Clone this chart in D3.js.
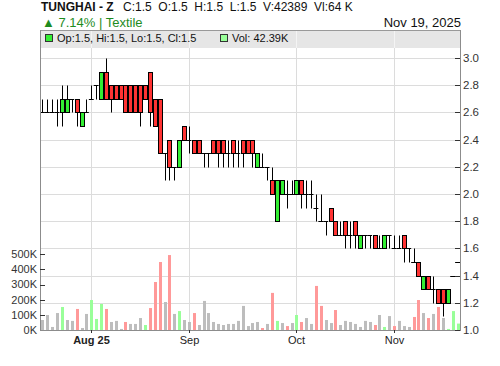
<!DOCTYPE html>
<html><head><meta charset="utf-8">
<script src="https://cdn.jsdelivr.net/npm/d3@7/dist/d3.min.js"></script>
<style>
html,body{margin:0;padding:0;background:#fff;}
svg{display:block;font-family:"Liberation Sans",Arial,sans-serif;}
text{white-space:pre;}
</style></head>
<body><svg id="c" width="500" height="366"></svg>
<script>
const dates = [
"2025-07-20","2025-07-21","2025-07-22","2025-07-23","2025-07-24","2025-07-27","2025-07-28","2025-07-29","2025-07-30","2025-07-31",
"2025-08-03","2025-08-04","2025-08-06","2025-08-07","2025-08-10","2025-08-11","2025-08-12","2025-08-13","2025-08-14","2025-08-17",
"2025-08-18","2025-08-19","2025-08-20","2025-08-21","2025-08-24","2025-08-25","2025-08-26","2025-08-27","2025-08-28","2025-08-31",
"2025-09-01","2025-09-02","2025-09-03","2025-09-04","2025-09-07","2025-09-08","2025-09-09","2025-09-10","2025-09-11","2025-09-14",
"2025-09-15","2025-09-16","2025-09-17","2025-09-18","2025-09-21","2025-09-22","2025-09-23","2025-09-24","2025-09-25","2025-09-28",
"2025-09-29","2025-09-30","2025-10-05","2025-10-06","2025-10-07","2025-10-08","2025-10-09","2025-10-12","2025-10-13","2025-10-14",
"2025-10-15","2025-10-16","2025-10-19","2025-10-20","2025-10-21","2025-10-22","2025-10-23","2025-10-26","2025-10-27","2025-10-28",
"2025-10-29","2025-10-30","2025-11-02","2025-11-03","2025-11-04","2025-11-05","2025-11-06","2025-11-09","2025-11-10","2025-11-11",
"2025-11-12","2025-11-13","2025-11-16","2025-11-17","2025-11-18","2025-11-19"];
const open = [2.6,2.6,2.6,2.6,2.6,2.6,2.7,2.7,2.5,2.6, 2.7,2.8,2.7,2.9,2.8,2.8,2.8,2.8,2.8,2.8,
2.8,2.8,2.9,2.7,2.7,2.3,2.4,2.2,2.2,2.5, 2.4,2.4,2.4,2.3,2.3,2.4,2.4,2.4,2.3,2.4,
2.3,2.4,2.4,2.4,2.2,2.2,2.2,2.1,1.8,2.0, 2.0,2.0,2.0,2.1,2.0,2.0,1.9,1.8,1.8,1.9,
1.8,1.7,1.8,1.7,1.8,1.6,1.7,1.7,1.7,1.6, 1.6,1.7,1.6,1.6,1.7,1.6,1.5,1.5,1.3,1.4,
1.3,1.3,1.3,1.2,1.4,1.5];
const high = [2.7,2.7,2.7,2.7,2.8,2.8,2.7,2.7,2.6,2.7, 2.8,2.8,2.9,3.0,2.8,2.8,2.8,2.8,2.8,2.8,
2.8,2.8,2.9,2.7,2.7,2.3,2.4,2.2,2.4,2.5, 2.5,2.4,2.4,2.3,2.3,2.4,2.4,2.4,2.4,2.4,
2.4,2.4,2.4,2.4,2.3,2.3,2.2,2.2,2.1,2.1, 2.1,2.1,2.1,2.1,2.1,2.1,2.0,2.0,1.8,1.9,
1.8,1.8,1.8,1.8,1.8,1.7,1.7,1.7,1.7,1.7, 1.7,1.7,1.7,1.7,1.7,1.6,1.6,1.5,1.4,1.4,
1.4,1.3,1.3,1.3,1.4,1.5];
const low = [2.6,2.6,2.6,2.5,2.5,2.6,2.6,2.5,2.5,2.6, 2.7,2.7,2.7,2.7,2.6,2.7,2.7,2.6,2.6,2.6,
2.5,2.7,2.5,2.5,2.3,2.1,2.1,2.1,2.2,2.4, 2.3,2.3,2.3,2.2,2.2,2.3,2.2,2.2,2.2,2.2,
2.2,2.2,2.3,2.2,2.2,2.2,2.1,2.0,1.8,2.0, 1.9,2.0,2.0,1.9,1.9,1.9,1.8,1.8,1.7,1.8,
1.7,1.7,1.6,1.6,1.6,1.6,1.6,1.6,1.6,1.6, 1.6,1.6,1.6,1.6,1.5,1.5,1.5,1.4,1.3,1.3,
1.2,1.2,1.1,1.2,1.4,1.5];
const close = [2.6,2.6,2.6,2.6,2.7,2.7,2.7,2.6,2.6,2.6, 2.7,2.8,2.9,2.7,2.7,2.7,2.7,2.6,2.6,2.6,
2.6,2.7,2.6,2.5,2.3,2.3,2.2,2.2,2.4,2.4, 2.4,2.3,2.3,2.3,2.3,2.3,2.3,2.3,2.3,2.3,
2.3,2.3,2.3,2.3,2.3,2.2,2.2,2.0,2.1,2.1, 2.0,2.0,2.1,2.0,2.0,2.0,1.9,1.8,1.8,1.8,
1.7,1.7,1.7,1.7,1.7,1.7,1.7,1.7,1.6,1.6, 1.7,1.7,1.6,1.6,1.6,1.6,1.5,1.4,1.4,1.3,
1.3,1.2,1.2,1.3,1.4,1.5];
const volume = [66000,99000,20000,112000,152000,66000,60000,139000,13000,106000,
198000,73000,172000,139000,53000,60000,7000,53000,40000,40000,
79000,33000,145000,317000,449000,185000,495000,106000,125000,66000,
53000,112000,33000,192000,112000,53000,40000,33000,40000,40000,
60000,159000,26000,46000,53000,13000,40000,245000,60000,46000,
26000,46000,99000,53000,79000,40000,291000,159000,66000,46000,
132000,33000,60000,53000,40000,20000,60000,53000,33000,99000,
20000,92000,26000,60000,26000,20000,86000,198000,112000,79000,
106000,152000,79000,7000,125000,42389];
const priceTicks = [1.0,1.2,1.4,1.6,1.8,2.0,2.2,2.4,2.6,2.8,3.0];
const volTicks = [0,100000,200000,300000,400000,500000];
const monthTickDates = ["2025-08-03","2025-09-01","2025-10-05","2025-11-02"];
const monthLabels = ["Aug 25","Sep","Oct","Nov"];
const titleText = "TUNGHAI - Z";
const statsText = "C:1.5  O:1.5  H:1.5  L:1.5  V:42389  Vl:64 K";
const changeText = "\u25B2 7.14% | Textile";
const dateText = "Nov 19, 2025";

const svg = d3.select("#c");
const L = 40, R = 460, T = 30, B = 330;
const x = d3.scaleBand().domain(dates).range([L, R]).padding(0);
const bw = x.bandwidth();
const y = d3.scaleLinear().domain([1.0, 3.0]).range([330, 58]);
const yv = d3.scaleLinear().domain([0, 500000]).range([330, 254.3]);
const cx = d => Math.round(x(d) + bw / 2);
const py = v => Math.round(y(v)) + 0.5;

// legend box background
svg.append("rect").attr("x", L).attr("y", T).attr("width", R - L).attr("height", 18).attr("fill", "#e6e6e6");

// horizontal grid
svg.append("g").selectAll("line").data(priceTicks.filter(t => t > 1.0)).join("line")
  .attr("x1", L).attr("x2", R).attr("y1", d => py(d)).attr("y2", d => py(d))
  .attr("stroke", "#dcdcdc").attr("stroke-width", 1);
// vertical grid
svg.append("g").selectAll("line").data(monthTickDates).join("line")
  .attr("x1", d => cx(d) + 0.5).attr("x2", d => cx(d) + 0.5).attr("y1", T + 18).attr("y2", B)
  .attr("stroke", "#dcdcdc");
svg.append("g").selectAll("line").data(monthTickDates).join("line")
  .attr("x1", d => cx(d) + 0.5).attr("x2", d => cx(d) + 0.5).attr("y1", T + 1).attr("y2", T + 18)
  .attr("stroke", "#f4f4f4");
svg.append("line").attr("x1", L).attr("x2", R).attr("y1", T + 0.5).attr("y2", T + 0.5).attr("stroke", "#999");

// volume bars
const volColor = (i) => i === 0 || close[i] === close[i - 1] ? "#bdbdbd" : (close[i] > close[i - 1] ? "#99ff99" : "#ff9999");
svg.append("g").selectAll("rect").data(dates).join("rect")
  .attr("x", d => cx(d) - 1).attr("width", 3)
  .attr("y", (d, i) => yv(volume[i])).attr("height", (d, i) => 330 - yv(volume[i]))
  .attr("fill", (d, i) => volColor(i));

// candles
const g = svg.append("g");
dates.forEach((d, i) => {
  const c = cx(d);
  const o = open[i], h = high[i], l = low[i], cl = close[i];
  if (h !== l) {
    g.append("line").attr("x1", c + 0.5).attr("x2", c + 0.5).attr("y1", py(h)).attr("y2", py(l))
      .attr("stroke", "#000").attr("stroke-width", 1);
  }
  if (o === cl) {
    g.append("line").attr("x1", x(d)).attr("x2", x(d) + bw).attr("y1", py(cl)).attr("y2", py(cl))
      .attr("stroke", "#000").attr("stroke-width", 1);
  } else {
    const top = py(Math.max(o, cl)), bot = py(Math.min(o, cl));
    g.append("rect").attr("x", c - 1.5).attr("width", 4).attr("y", top).attr("height", bot - top)
      .attr("fill", cl > o ? "#33ee33" : "#ff3333").attr("stroke", "#000").attr("stroke-width", 1);
  }
});

// axes lines
svg.append("line").attr("x1", L + 0.5).attr("x2", L + 0.5).attr("y1", T).attr("y2", B + 1).attr("stroke", "#8c8c8c");
svg.append("line").attr("x1", R + 0.5).attr("x2", R + 0.5).attr("y1", T).attr("y2", B + 1).attr("stroke", "#8c8c8c");
svg.append("line").attr("x1", L).attr("x2", R + 1).attr("y1", B + 0.5).attr("y2", B + 0.5).attr("stroke", "#8c8c8c");

// right price axis
const ra = svg.append("g");
priceTicks.forEach(t => {
  ra.append("line").attr("x1", R - 5).attr("x2", R).attr("y1", py(t)).attr("y2", py(t)).attr("stroke", "#333");
  ra.append("text").attr("x", R + 3).attr("y", y(t)).attr("dy", "0.35em").attr("font-size", 11.5).attr("fill", "#333").text(t.toFixed(1));
});
// left volume axis
const la = svg.append("g");
volTicks.forEach(t => {
  const yy = Math.round(yv(t)) + 0.5;
  if (t > 0) la.append("line").attr("x1", L).attr("x2", L + 5).attr("y1", yy).attr("y2", yy).attr("stroke", "#333");
  la.append("text").attr("x", 37).attr("y", yv(t)).attr("dy", "0.35em").attr("text-anchor", "end")
    .attr("font-size", 11).attr("fill", "#333").text((t / 1000) + "K");
});
// bottom month axis
monthTickDates.forEach((d, i) => {
  const c = cx(d) + 0.5;
  svg.append("line").attr("x1", c).attr("x2", c).attr("y1", B).attr("y2", B + 3).attr("stroke", "#333");
  svg.append("text").attr("x", c).attr("y", 344).attr("text-anchor", "middle").attr("font-size", 11)
    .attr("font-weight", i === 0 ? "bold" : "normal").attr("fill", "#222").text(monthLabels[i]);
});

// header
svg.append("text").attr("x", 41).attr("y", 11).attr("font-size", 12).attr("font-weight", "bold").attr("fill", "#111").text(titleText);
svg.append("text").attr("x", 123).attr("y", 11).attr("font-size", 12).attr("fill", "#111").text(statsText);
svg.append("text").attr("x", 42).attr("y", 26.5).attr("font-size", 13).attr("fill", "#1e8c1e").text(changeText);
svg.append("text").attr("x", 461).attr("y", 26.5).attr("text-anchor", "end").attr("font-size", 13).attr("fill", "#111").text(dateText);

// legend
const n = dates.length - 1;
svg.append("rect").attr("x", 45.5).attr("y", 34.5).attr("width", 7).attr("height", 7).attr("fill", "#33ee33").attr("stroke", "#333");
svg.append("text").attr("x", 57).attr("y", 41.5).attr("font-size", 11).attr("fill", "#111")
  .text(`Op:${open[n]}, Hi:${high[n]}, Lo:${low[n]}, Cl:${close[n]}`);
svg.append("rect").attr("x", 220.5).attr("y", 34.5).attr("width", 7).attr("height", 7).attr("fill", "#99ff99").attr("stroke", "#333");
svg.append("text").attr("x", 232).attr("y", 41.5).attr("font-size", 11).attr("fill", "#111")
  .text(`Vol: ${(volume[n] / 1000).toFixed(2)}K`);
</script></body></html>
